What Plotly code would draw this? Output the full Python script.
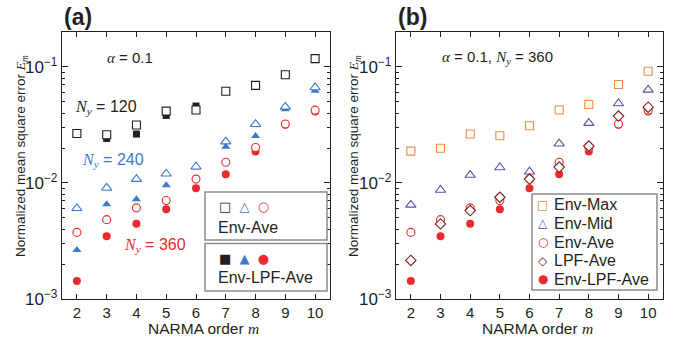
import plotly.graph_objects as go
import math

# ---------------- data ----------------
m = [2, 3, 4, 5, 6, 7, 8, 9, 10]

# panel (a)
ave_120 = [0.0267, 0.0260, 0.0316, 0.0416, 0.0425, 0.0618, 0.0694, 0.0855, 0.118]
lpf_120 = [0.0265, 0.0242, 0.0264, 0.0382, 0.0460, 0.0618, 0.0694, 0.0855, 0.118]
ave_240 = [0.00605, 0.00906, 0.0108, 0.0120, 0.0138, 0.0227, 0.0321, 0.0453, 0.0665]
lpf_240 = [0.00265, 0.00656, 0.00724, 0.00957, 0.0136, 0.0205, 0.0254, 0.0431, 0.0622]
ave_360 = [0.00375, 0.00483, 0.00610, 0.00707, 0.0108, 0.0151, 0.0202, 0.0322, 0.0424]
lpf_360 = [0.00143, 0.00347, 0.00446, 0.00595, 0.00900, 0.0119, 0.0187, 0.0318, 0.0412]

# panel (b)
env_max = [0.0188, 0.0199, 0.0264, 0.0255, 0.0311, 0.0425, 0.0474, 0.0706, 0.0918]
env_mid = [0.00647, 0.00870, 0.0117, 0.0136, 0.0125, 0.0218, 0.0328, 0.0484, 0.0634]
env_ave = ave_360
lpf_ave = [0.00215, 0.00444, 0.00578, 0.00753, 0.0108, 0.0137, 0.0208, 0.0377, 0.0450]
env_lpf_ave = lpf_360

legend_b_names = ["Env-Max", "Env-Mid", "Env-Ave", "LPF-Ave", "Env-LPF-Ave"]

y_ticks = [1e-3, 1e-2, 1e-1]
y_ticktext = ["10<sup>\u22123</sup>", "10<sup>\u22122</sup>", "10<sup>\u22121</sup>"]

# ---------------- style ----------------
BLACK = "#231f20"
BLUE = "#3b7bc8"
RED = "#ea2a2e"
ORANGE = "#f08a4b"
PURPLE = "#5b4eaa"
DARKRED = "#7a1c1c"
GRAY = "#8c8c8c"
SANS = "Liberation Sans, Arial, sans-serif"
SERIF = "Liberation Serif, Times New Roman, serif"
W, H = 683, 346


def it(s):
    return f'<span style="font-family:{SERIF}"><i>{s}</i></span>'


fig = go.Figure()


def add(x, y, sym, color, filled, xa, ya, size=8):
    mk = dict(symbol=sym, size=size)
    if filled:
        mk.update(color=color, line=dict(width=0))
    else:
        mk.update(color="white", line=dict(color=color, width=1.1))
    fig.add_trace(go.Scatter(x=x, y=y, mode="markers", marker=mk, xaxis=xa, yaxis=ya,
                             showlegend=False))


# panel (a): filled under open
add(m, lpf_120, "square", BLACK, True, "x", "y", size=7)
add(m, ave_120, "square", BLACK, False, "x", "y", size=8)
add(m, lpf_240, "triangle-up", BLUE, True, "x", "y", size=8)
add(m, ave_240, "triangle-up", BLUE, False, "x", "y", size=9)
add(m, lpf_360, "circle", RED, True, "x", "y", size=8)
add(m, ave_360, "circle", RED, False, "x", "y", size=8)

# panel (b)
add(m, env_lpf_ave, "circle", RED, True, "x2", "y2", size=8)
add(m, env_max, "square", ORANGE, False, "x2", "y2", size=8)
add(m, env_mid, "triangle-up", PURPLE, False, "x2", "y2", size=9)
add(m, env_ave, "circle", RED, False, "x2", "y2", size=8)
add(m, lpf_ave, "diamond", DARKRED, False, "x2", "y2", size=8)

ytop = 0.2
minor_vals = [k * 10 ** e for e in (-3, -2, -1) for k in range(2, 10) if k * 10 ** e <= ytop]

y_dom = [1 - 299 / H, 1 - 32 / H]
xa_dom = [62 / W, 330 / W]
xb_dom = [396 / W, 663 / W]

xcommon = dict(range=[1.5, 10.5], tickvals=m, ticks="inside", ticklen=5, tickwidth=1,
               tickcolor=BLACK, mirror="ticks", showline=True, linecolor=BLACK, linewidth=1.3,
               showgrid=False, zeroline=False, tickfont=dict(family=SANS, size=15, color=BLACK),
               automargin=False)
ycommon = dict(type="log", range=[-3, math.log10(ytop)], tickvals=y_ticks, ticktext=y_ticktext,
               ticks="inside", ticklen=6, tickwidth=1, tickcolor=BLACK, mirror="ticks",
               showline=True, linecolor=BLACK, linewidth=1.3, showgrid=False, zeroline=False,
               tickfont=dict(family=SANS, size=17, color=BLACK), automargin=False,
               minor=dict(tickvals=minor_vals, ticks="inside", ticklen=3, tickcolor=BLACK,
                          showgrid=False))

fig.update_layout(
    width=W, height=H, margin=dict(l=0, r=0, t=0, b=0),
    paper_bgcolor="white", plot_bgcolor="white", showlegend=False,
    xaxis=dict(domain=xa_dom, anchor="y", **xcommon),
    yaxis=dict(domain=y_dom, anchor="x", **ycommon),
    xaxis2=dict(domain=xb_dom, anchor="y2", **xcommon),
    yaxis2=dict(domain=y_dom, anchor="x2", **ycommon),
)

ann = []


def A(x, y, text, size=15, color=BLACK, xanchor="center", yanchor="middle", angle=0, family=SANS):
    ann.append(dict(x=x / W, y=1 - y / H, xref="paper", yref="paper", text=text,
                    showarrow=False, xanchor=xanchor, yanchor=yanchor, textangle=angle,
                    font=dict(family=family, size=size, color=color)))


# panel labels
A(62, 17, "<b>(a)</b>", size=23, xanchor="left")
A(396, 17, "<b>(b)</b>", size=23, xanchor="left")
# axis titles
A(203, 328.5, "NARMA order " + it("m"), size=15.5)
A(537, 328.5, "NARMA order " + it("m"), size=15.5)
A(21, 156, "Normalized mean square error " + it("E<sub>m</sub>"), size=13.5, angle=-90)
A(354, 156, "Normalized mean square error " + it("E<sub>m</sub>"), size=13.5, angle=-90)
# in-plot annotations (a)
A(105, 58, it("\u03b1") + " = 0.1", size=15, xanchor="left")
A(73, 107, it("N<sub>y</sub>") + " = 120", size=16, xanchor="left")
A(80, 160, it("N<sub>y</sub>") + " = 240", size=16, color=BLUE, xanchor="left")
A(122, 245, it("N<sub>y</sub>") + " = 360", size=16, color=RED, xanchor="left")
# in-plot annotation (b)
A(440, 58, it("\u03b1") + " = 0.1, " + it("N<sub>y</sub>") + " = 360", size=15, xanchor="left")

shapes = []
# custom grouped legend for (a)
for (y0, y1) in [(192, 240), (243.5, 291)]:
    shapes.append(dict(type="rect", xref="paper", yref="paper", x0=205 / W, x1=327 / W,
                       y0=1 - y1 / H, y1=1 - y0 / H, line=dict(color=GRAY, width=1.5),
                       fillcolor="white", layer="above"))
sym_open = (f'<span style="color:{BLACK}">\u25a1</span>  '
            f'<span style="color:{BLUE}">\u25b3</span>  '
            f'<span style="color:{RED}">\u25cb</span>')
sym_fill = (f'<span style="color:{BLACK}">\u25a0</span>  '
            f'<span style="color:{BLUE}">\u25b2</span>  '
            f'<span style="color:{RED}">\u25cf</span>')
A(217, 206, sym_open, size=13, xanchor="left", family="DejaVu Sans")
A(216, 227, "Env-Ave", size=16, xanchor="left")
A(217, 258, sym_fill, size=13, xanchor="left", family="DejaVu Sans")
A(216, 277, "Env-LPF-Ave", size=16, xanchor="left")

# custom legend for (b)
shapes.append(dict(type="rect", xref="paper", yref="paper", x0=532 / W, x1=657 / W,
                   y0=1 - 290 / H, y1=1 - 194 / H, line=dict(color=GRAY, width=1.5),
                   fillcolor="white", layer="above"))
glyphs_b = [("\u25a1", ORANGE), ("\u25b3", PURPLE), ("\u25cb", RED), ("\u25c7", DARKRED), ("\u25cf", RED)]
rows_y = [205, 223.3, 242, 260.5, 279]
for (g, c), name, yy in zip(glyphs_b, legend_b_names, rows_y):
    A(542.5, yy, g, size=12, color=c, family="DejaVu Sans")
    A(552, yy, name, size=16, xanchor="left")

fig.update_layout(annotations=ann, shapes=shapes)
fig.write_html("out.html")
